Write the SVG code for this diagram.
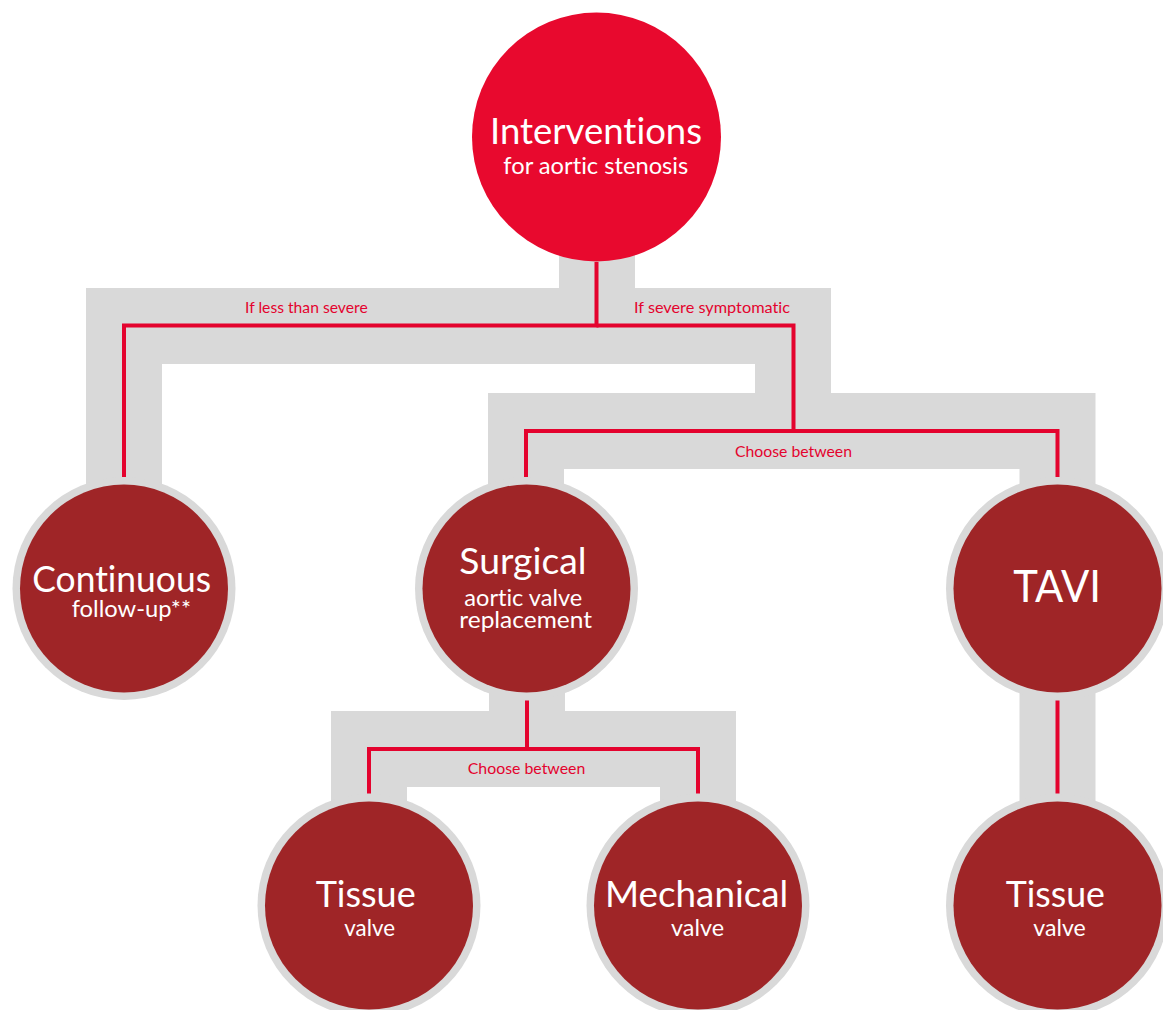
<svg xmlns="http://www.w3.org/2000/svg" width="1163" height="1010" viewBox="0 0 1163 1010">
<style>
text{font-variant-ligatures:none;font-feature-settings:"liga" 0,"clig" 0,"dlig" 0}
.band{fill:none;stroke:#d9d9d9;stroke-width:76;stroke-linejoin:miter;stroke-linecap:butt}
.wire{fill:none;stroke:#e4032e;stroke-width:4;stroke-linejoin:miter;stroke-linecap:butt}
.lbl{font-family:Lato,"Open Sans",sans-serif;font-size:16px;fill:#e4032e}
.ring{fill:#d9d9d9}
.dark{fill:#9f2527}
.top{fill:#e8092e}
.t1{font-family:Lato,"Open Sans",sans-serif;font-size:36px;fill:#ffffff}
.t2{font-family:Lato,"Open Sans",sans-serif;font-size:24px;fill:#ffffff}
.t3{font-family:Lato,"Open Sans",sans-serif;font-size:44px;fill:#ffffff}
</style>
<rect width="1163" height="1010" fill="#ffffff"/>
<g id="connectors">
  <path class="band" d="M597,240 V326 H124 V520"/>
  <path class="band" d="M597,326 H793 V431"/>
  <path class="band" d="M526,520 V431 H1057.5 V520"/>
  <path class="band" d="M527,680 V749 H369 V830"/>
  <path class="band" d="M527,749 H698 V830"/>
  <path class="band" d="M1057.5,680 V830"/>
  <path class="wire" d="M596.5,262 V325.5 H124 V477"/>
  <path class="wire" d="M596.5,325.5 H793.5 V431"/>
  <path class="wire" d="M526,477 V431 H1057.5 V477"/>
  <path class="wire" d="M527,700.5 V749 H369 V793.5"/>
  <path class="wire" d="M527,749 H698 V793.5"/>
  <path class="wire" d="M1057.5,700.5 V793.5"/>
  <text class="lbl" x="245" y="313.3" textLength="122.7" lengthAdjust="spacingAndGlyphs">If less than severe</text>
  <text class="lbl" x="634" y="313.3" textLength="156" lengthAdjust="spacingAndGlyphs">If severe symptomatic</text>
  <text class="lbl" x="735" y="457" textLength="117" lengthAdjust="spacingAndGlyphs">Choose between</text>
  <text class="lbl" x="467.7" y="774" textLength="117.6" lengthAdjust="spacingAndGlyphs">Choose between</text>
</g>
<g id="node-interventions">
  <circle class="top" cx="596.5" cy="137" r="124.5"/>
  <text class="t1" x="490" y="144" textLength="212" lengthAdjust="spacingAndGlyphs">Interventions</text>
  <text class="t2" x="503.3" y="174" textLength="185" lengthAdjust="spacingAndGlyphs">for aortic stenosis</text>
</g>
<g id="node-continuous">
  <circle class="ring" cx="124" cy="588.5" r="111.5"/>
  <circle class="dark" cx="124" cy="588.5" r="104"/>
  <text class="t1" x="32.3" y="592.3" textLength="178.7" lengthAdjust="spacingAndGlyphs">Continuous</text>
  <text class="t2" x="71.7" y="617.3" textLength="119.3" lengthAdjust="spacingAndGlyphs">follow-up**</text>
</g>
<g id="node-surgical">
  <circle class="ring" cx="526.5" cy="588.5" r="111.5"/>
  <circle class="dark" cx="526.5" cy="588.5" r="104"/>
  <text class="t1" x="459.3" y="574.3" textLength="127.3" lengthAdjust="spacingAndGlyphs">Surgical</text>
  <text class="t2" x="464.3" y="606" textLength="118" lengthAdjust="spacingAndGlyphs">aortic valve</text>
  <text class="t2" x="459.3" y="627.7" textLength="132.7" lengthAdjust="spacingAndGlyphs">replacement</text>
</g>
<g id="node-tavi">
  <circle class="ring" cx="1057.5" cy="588.5" r="111.5"/>
  <circle class="dark" cx="1057.5" cy="588.5" r="104"/>
  <text class="t3" x="1013.3" y="602.3" textLength="87.7" lengthAdjust="spacingAndGlyphs">TAVI</text>
</g>
<g id="node-tissue-surgical">
  <circle class="ring" cx="369" cy="905.5" r="111.5"/>
  <circle class="dark" cx="369" cy="905.5" r="104"/>
  <text class="t1" x="315.7" y="907.3" textLength="100" lengthAdjust="spacingAndGlyphs">Tissue</text>
  <text class="t2" x="344.3" y="936" textLength="50.7" lengthAdjust="spacingAndGlyphs">valve</text>
</g>
<g id="node-mechanical">
  <circle class="ring" cx="698" cy="905.5" r="111.5"/>
  <circle class="dark" cx="698" cy="905.5" r="104"/>
  <text class="t1" x="605" y="907.3" textLength="183.3" lengthAdjust="spacingAndGlyphs">Mechanical</text>
  <text class="t2" x="671" y="936" textLength="53" lengthAdjust="spacingAndGlyphs">valve</text>
</g>
<g id="node-tissue-tavi">
  <circle class="ring" cx="1057.5" cy="905.5" r="111.5"/>
  <circle class="dark" cx="1057.5" cy="905.5" r="104"/>
  <text class="t1" x="1005.7" y="907.3" textLength="99.3" lengthAdjust="spacingAndGlyphs">Tissue</text>
  <text class="t2" x="1033.3" y="936" textLength="52.4" lengthAdjust="spacingAndGlyphs">valve</text>
</g>
</svg>
